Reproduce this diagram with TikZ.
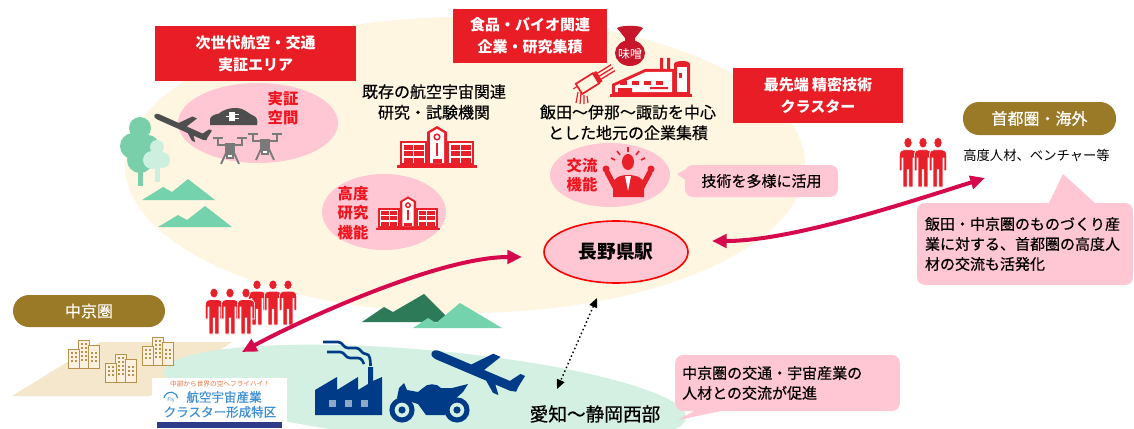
\documentclass[tikz,border=0pt]{standalone}
\usepackage{fontspec}
\setmainfont{Noto Sans CJK JP}
\newfontfamily\medfont{Noto Sans CJK JP}[FakeBold=0.5]
\usetikzlibrary{arrows.meta,shapes.geometric}

\definecolor{boxred}{HTML}{E91D25}
\definecolor{pillbrown}{HTML}{9A7A26}
\definecolor{cream}{HTML}{FFF6E2}
\definecolor{softpink}{HTML}{FFC6D4}
\definecolor{mint}{HTML}{D3F0E3}
\definecolor{crimson}{HTML}{D6094C}
\definecolor{navy}{HTML}{003B87}
\definecolor{navylight}{HTML}{8FA6C6}
\definecolor{mtdark}{HTML}{2C7A58}
\definecolor{mtlight}{HTML}{74D2AD}
\definecolor{treegreen}{HTML}{78CFA9}
\definecolor{treelight}{HTML}{CDEFDF}
\definecolor{iconred}{HTML}{E8202A}
\definecolor{bagred}{HTML}{C8172B}
\definecolor{labelred}{HTML}{F0141E}
\definecolor{tanline}{HTML}{B8924C}
\definecolor{tanfill}{HTML}{F5E7CC}
\definecolor{townfill}{HTML}{FBF1DE}
\definecolor{icongray}{HTML}{4E4E4E}
\definecolor{dronegray}{HTML}{7A7A7A}
\definecolor{logoblue}{HTML}{3D8FD3}
\definecolor{logobar}{HTML}{2E3B88}
\definecolor{logoorange}{HTML}{E9743A}

\tikzset{
  redbox/.style={fill=boxred, text=white, align=center, inner sep=0pt,
    font=\bfseries\fontsize{11.25}{16.5}\selectfont},
  pill/.style={fill=pillbrown, text=white, rounded corners=12pt, inner sep=0pt,
    font=\medfont\fontsize{12}{14}\selectfont},
  callout/.style={fill=softpink, rounded corners=6pt, align=left,
    font=\medfont\fontsize{11.25}{15}\selectfont},
  blacklabel/.style={align=center, inner sep=0pt, font=\medfont\fontsize{12}{15.5}\selectfont},
  redlabel/.style={text=labelred, align=center, inner sep=0pt,
    font=\bfseries\fontsize{11.5}{14.5}\selectfont},
  bigarrow/.style={crimson, line width=3pt,
    {Triangle[length=11pt,width=10pt]}-{Triangle[length=11pt,width=10pt]}},
  dotarrow/.style={black, line width=1.1pt, dotted,
    {Triangle[length=7pt,width=6pt]}-{Triangle[length=7pt,width=6pt]}},
  % red public building with a clock tower
  school/.pic={
    \fill[iconred] (-40,-3) rectangle (40,0);
    \fill[iconred] (-37,-27) rectangle (37,-3);
    \fill[iconred] (-10,-36) -- (0,-42) -- (10,-36) -- (10,-3) -- (-10,-3) -- cycle;
    \fill[white] (-35,-25) rectangle (-12,-5);
    \fill[white] (12,-25) rectangle (35,-5);
    \foreach \yy in {-23.5,-17,-10.5}{
      \foreach \xx in {-33.5,-23,13.5,24}{
        \fill[iconred] (\xx,\yy) rectangle ++(9.5,5);
      }
    }
    \fill[white] (-7,-35) -- (0,-39) -- (7,-35) -- (7,-5) -- (-7,-5) -- cycle;
    \draw[iconred, line width=1.1pt] (0,-31) circle (2.8);
    \fill[iconred] (-1.2,-25) rectangle (1.2,-12);
    \fill[iconred] (-4.5,-9) rectangle (4.5,-5);
  },
  % standing person silhouette
  person/.pic={
    \filldraw[fill=iconred, draw=white, line width=0.5pt] (0,-41) circle (5);
    \filldraw[fill=iconred, draw=white, line width=0.5pt]
      (-10.5,-15) -- (-10.5,-29) .. controls (-10.5,-33) and (-8,-34.5) .. (-5,-34.5)
      -- (5,-34.5) .. controls (8,-34.5) and (10.5,-33) .. (10.5,-29) -- (10.5,-15)
      -- (7.5,-15) -- (7.5,-27) -- (6,-27) -- (6,0) -- (1,0) -- (1,-16) -- (-1,-16)
      -- (-1,0) -- (-6,0) -- (-6,-27) -- (-7.5,-27) -- (-7.5,-15) -- cycle;
  },
  % small group of city blocks
  town/.pic={
    \filldraw[fill=townfill, draw=tanline, line width=0.7pt] (10,-28) rectangle (21,0);
    \filldraw[fill=townfill, draw=tanline, line width=0.7pt] (0,-19) rectangle (11,0);
    \filldraw[fill=townfill, draw=tanline, line width=0.7pt] (20,-23) rectangle (31,0);
    \foreach \yy in {-16,-12,-8}{
      \fill[tanline] (2.5,\yy) rectangle ++(2,2);
      \fill[tanline] (6.5,\yy) rectangle ++(2,2);
      \fill[tanline] (22.5,\yy) rectangle ++(2,2);
      \fill[tanline] (26.5,\yy) rectangle ++(2,2);
    }
    \foreach \yy in {-25,-21,-17,-13,-9}{
      \fill[tanline] (12.5,\yy) rectangle ++(2,2);
      \fill[tanline] (16.5,\yy) rectangle ++(2,2);
    }
  },
  % airliner seen from the side, nose along +x, fin towards -y
  airliner/.pic={
    \fill (47,0) .. controls (47,-3) and (44,-4.5) .. (40,-4.5)
      -- (6,-4.5) -- (-10,-23) -- (-18,-23) -- (-8,-4.5)
      -- (-36,-4.5) -- (-43,-15) -- (-48,-15) -- (-46,-2)
      -- (-46,3) -- (-40,4.5)
      -- (-24,4.5) -- (-31,13) -- (-25,13) -- (-14,4.5)
      -- (40,4.5) .. controls (44,4.5) and (47,3) .. (47,0) -- cycle;
  },
  % quadcopter drone
  drone/.pic={
    \draw[dronegray, line width=1.6pt] (-17,-14) -- (-7,-14) (7,-14) -- (17,-14);
    \draw[dronegray, line width=1.4pt] (-12,-14) -- (-12,-7) -- (12,-7) -- (12,-14);
    \fill[dronegray] (-5,-9) rectangle (5,2);
    \draw[dronegray, line width=1.4pt] (-4,1) -- (-9,12) (4,1) -- (9,12);
    \filldraw[fill=white, draw=dronegray, line width=0.8pt] (-3,2) rectangle (3,6);
  }
}

\begin{document}
\begin{tikzpicture}[x=0.75pt,y=-0.75pt]
\useasboundingbox (0,0) rectangle (1134,428);
\fill[white] (0,0) rectangle (1134,428);

% ---------- regions ----------
\fill[cream] (465,165) ellipse [x radius=340, y radius=148];
\fill[tanfill] (100,342) -- (232,342) -- (150,396) -- (12,396) -- cycle;
\begin{scope}[shift={(425,395)}, rotate=-5]
  \fill[mint] (0,0) ellipse [x radius=262, y radius=45];
\end{scope}

% ---------- nature ----------
\fill[treegreen] (138,160) rectangle (143,186);
\fill[treegreen] (140,128) circle (11) (133,146) circle (13) (148,146) circle (11) (140,160) circle (13);
\fill[treelight] (155,166) rectangle (160,182);
\fill[treelight] (157,147) circle (7) (152,160) circle (9) (162,160) circle (8);
\fill[mtlight] (142,200) -- (163,187) -- (172,192) -- (188,179) -- (215,200) -- cycle;
\fill[mtlight] (158,227) -- (178,215) -- (187,220) -- (205,206) -- (232,227) -- cycle;
\fill[mtdark] (362,322) -- (384,307) -- (393,312) -- (424,294) -- (452,322) -- cycle;
\fill[mtlight] (413,328) -- (428,318) -- (436,323) -- (460,303) -- (502,328) -- cycle;

% ---------- pink areas ----------
\fill[softpink] (258,123) ellipse [x radius=80, y radius=40];
\fill[softpink] (384,212) ellipse [x radius=62, y radius=38];
\fill[softpink] (610,175) ellipse [x radius=60, y radius=32];

% ---------- demonstration area icons ----------
\pic[icongray, rotate=-24, xscale=-0.62, yscale=0.62] at (181,127) {airliner};
\fill[icongray] (210,125) -- (210,119) .. controls (211,116) and (214,114.5) .. (219,113.5)
  .. controls (224,109) and (234,106.5) .. (242,109) .. controls (247,111) and (250,114.5) .. (253,115.5)
  .. controls (257,117) and (258,120) .. (257,125) -- cycle;
\fill[white] (229,112) rectangle (235,121);
\draw[white, line width=1pt] (235,114.5) -- (239,114.5) (235,118.5) -- (239,118.5) (226,116.5) -- (229,116.5);
\pic at (230,152) {drone};
\pic at (265,148) {drone};

% ---------- research buildings ----------
\pic at (437,168) {school};
\pic[scale=0.8] at (408,230) {school};

% ---------- food / bio cluster icons ----------
\fill[bagred] (630,53) ellipse [x radius=15, y radius=13];
\fill[bagred] (625,36) rectangle (635,44);
\fill[bagred] (625,38) -- (617,28) .. controls (622,25) and (638,25) .. (643,28) -- (635,38) -- cycle;
\node[text=white, inner sep=0pt, font=\fontsize{9}{9}\selectfont] (miso) at (630,54) {味噌};

\fill[iconred] (612,95) -- (612,84) -- (645,69) -- (660,69) -- (660,58) -- (663,58) -- (663,69)
  -- (667,69) -- (667,58) -- (670,58) -- (670,69) -- (674,69) -- (674,64)
  .. controls (674,60) and (690,60) .. (690,64) -- (690,95) -- cycle;
\fill[white] (615,92) -- (615,86) -- (645.5,72) -- (672,72) -- (672,92) -- cycle;
\fill[white] (677,67) rectangle (687,92);
\fill[iconred] (679,73) rectangle (682,78);
\foreach \xx in {620,632,644,656}{\fill[iconred] (\xx,81) rectangle ++(7,4);}
\fill[iconred] (618,88) rectangle (632,95) (650,87) rectangle (668,89);
\fill[iconred] (610,94) rectangle (692,97);

\begin{scope}[shift={(590,82)}, rotate=32]
  \draw[iconred, line width=1.3pt] (-13,-6) rectangle (7,6);
  \fill[iconred] (7,-6) rectangle (11,6);
  \draw[iconred, line width=1pt] (11,-3.5) -- (27,-3.5) (11,0) -- (27,0) (11,3.5) -- (27,3.5);
  \draw[iconred, line width=0.8pt] (-13,-3) -- (-18,-3);
\end{scope}
\draw[iconred, line width=0.9pt] (578,92) -- (576,103) (581,93) -- (580,104) (584,95) -- (584,104) (587,96) -- (588,103);

% ---------- exchange person ----------
\fill[iconred] (628,162) ellipse [x radius=6, y radius=8];
\draw[iconred, line width=1.2pt] (628,147) -- (628,152) (617,151) -- (620,155) (639,151) -- (636,155)
  (611,158) -- (615,160) (645,158) -- (641,160);
\fill[iconred] (613,197) -- (613,184) .. controls (613,178) and (620,175) .. (628,175)
  .. controls (636,175) and (644,178) .. (644,184) -- (644,197) -- cycle;
\draw[iconred, line width=4pt, line cap=round] (615,187) -- (607,172) (642,187) -- (650,172);
\fill[iconred] (606,169) circle (3.5) (651,169) circle (3.5);
\fill[white] (625,176) -- (631,176) -- (628,191) -- cycle;

% ---------- people ----------
\foreach \xx in {908,923,938}{\pic[xscale=0.82, yscale=1.08] at (\xx,187) {person};}
\foreach \xx in {257,273,288}{\pic[xscale=0.82, yscale=0.98] at (\xx,325) {person};}
\foreach \xx in {214,230,246}{\pic[xscale=0.82, yscale=1.0] at (\xx,334) {person};}

% ---------- Chukyo city ----------
\pic at (68,368) {town};
\pic at (105,382) {town};
\pic at (142,365) {town};

% ---------- cluster logo ----------
\node[fill=white, minimum width=101.25pt, minimum height=37.5pt, inner sep=0pt, anchor=north west] (logo) at (152,378) {};
\fill[logobar] (157,422) rectangle (282,428);
\node[text=logoorange, inner sep=0pt, font=\fontsize{5}{5}\selectfont] (logotag) at (220,384) {中部から世界の空へフライハイ！};
\draw[logoblue, line width=0.9pt] (164,398) arc[start angle=190, end angle=350, radius=7];
\node[text=logoblue, inner sep=0pt, font=\fontsize{4}{4}\selectfont] (logomark) at (171,400) {Fly};
\node[text=logoblue, inner sep=0pt, font=\medfont\fontsize{9.4}{9.4}\selectfont] (logoname1) at (224,397) {航空宇宙産業};
\node[text=logoblue, inner sep=0pt, font=\medfont\fontsize{9.4}{9.4}\selectfont] (logoname2) at (220,412) {クラスター形成特区};

% ---------- Aichi / Shizuoka industry ----------
\fill[navy] (315,415) -- (315,390) -- (337,377) -- (337,390) -- (358,377) -- (358,390)
  -- (368,384) -- (368,367) -- (373,367) -- (373,381) -- (382,377) -- (382,415) -- cycle;
\foreach \xx in {329,345,361}{\fill[navylight] (\xx,400) rectangle ++(6.5,6.5);}
\draw[navy, line width=2pt] (323,342) -- (338,342) .. controls (343,342) and (343,348) .. (348,348)
  -- (356,348) .. controls (361,348) and (361,354) .. (366,354) .. controls (370,354) and (370.5,360) .. (370.5,366);
\draw[navy, line width=2pt] (327,352) -- (340,352) .. controls (345,352) and (345,358) .. (350,358) -- (358,358)
  .. controls (362,358) and (363,362) .. (364,364);
\draw[navy, line width=3.8pt] (402,410) circle (10) (457,410) circle (10);
\fill[navy] (402,410) circle (3.6) (457,410) circle (3.6);
\fill[navy] (397,398) -- (399,388) -- (404,383) -- (407,390) -- (418,392) -- (423,388)
  .. controls (427,383) and (437,383) .. (441,388) -- (452,388) -- (468,384) -- (463,392)
  -- (455,399) -- (448,402) -- (445,415) -- (426,415) -- (418,404) -- (405,400) -- cycle;
\pic[navy, rotate=-23, xscale=-1] at (475,371) {airliner};

% ---------- red headings ----------
\node[redbox, minimum width=150.75pt, minimum height=41.25pt] (hdDemo) at (255.5,53.5) {次世代航空・交通\\実証エリア};
\node[redbox, minimum width=115.5pt, minimum height=40.5pt] (hdFood) at (530,36) {食品・バイオ関連\\企業・研究集積};
\node[redbox, minimum width=127.5pt, minimum height=41.25pt] (hdPrec) at (818,95.5) {最先端 精密技術\\クラスター};

% ---------- region pills ----------
\node[pill, minimum width=114.75pt, minimum height=24.75pt] (pillTokyo) at (1039.5,118.5) {首都圏・海外};
\node[pill, minimum width=114pt, minimum height=24pt] (pillChukyo) at (89,311) {中京圏};

% ---------- labels ----------
\node[blacklabel] (lblLab) at (434,102) {既存の航空宇宙関連\\研究・試験機関};
\node[blacklabel] (lblIida) at (628,122.5) {飯田～伊那～諏訪を中心\\とした地元の企業集積};
\node[anchor=west, inner sep=0pt, font=\fontsize{10}{12}\selectfont] (lblTalent) at (963,155) {高度人材、ベンチャー等};
\node[redlabel] (lblProof) at (283,108) {実証\\空間};
\node[redlabel] (lblAdv) at (353,213) {高度\\研究\\機能};
\node[redlabel] (lblExch) at (582,175) {交流\\機能};

% ---------- Nagano station ----------
\node[ellipse, fill=softpink, draw=red, line width=1.2pt, minimum width=108pt, minimum height=46.5pt,
  inner sep=0pt, font=\bfseries\fontsize{14}{14}\selectfont] (station) at (616,252) {長野県駅};
\node[inner sep=0pt, font=\medfont\fontsize{14}{14}\selectfont] (aichi) at (595,414) {愛知～静岡西部};

% ---------- callouts ----------
\fill[softpink] (677,174) -- (688,168) -- (688,182) -- cycle;
\node[callout, minimum width=114.75pt, minimum height=24pt, inner sep=0pt, align=center] (cTech) at (761.5,181) {技術を多様に活用};

\fill[softpink] (1063,174) -- (1048,205) -- (1097,205) -- cycle;
\node[callout, text width=150pt, minimum height=61.5pt, inner xsep=6pt, inner ysep=2pt] (cTokyo) at (1025,244)
  {飯田・中京圏のものづくり産\\業に対する、首都圏の高度人\\材の交流も活発化};

\fill[softpink] (678,420) -- (703,406) -- (745,406) -- cycle;
\node[callout, text width=158pt, minimum height=42pt, inner xsep=5.25pt, inner ysep=2pt] (cChukyo) at (787.5,383)
  {中京圏の交通・宇宙産業の\\人材との交流が促進};

% ---------- connectors ----------
\coordinate (chukyoEnd) at (242,352);
\coordinate (stationW) at (522,257);
\coordinate (stationE) at (712,241);
\coordinate (tokyoEnd) at (985,178);
\coordinate (dotTop) at (597,298);
\coordinate (dotBot) at (557,389);
\draw[bigarrow] (chukyoEnd) .. controls (305,318) and (440,257) .. (stationW);
\draw[bigarrow] (stationE) .. controls (790,241) and (900,205) .. (tokyoEnd);
\draw[dotarrow] (dotTop) -- (dotBot);
\end{tikzpicture}
\end{document}
